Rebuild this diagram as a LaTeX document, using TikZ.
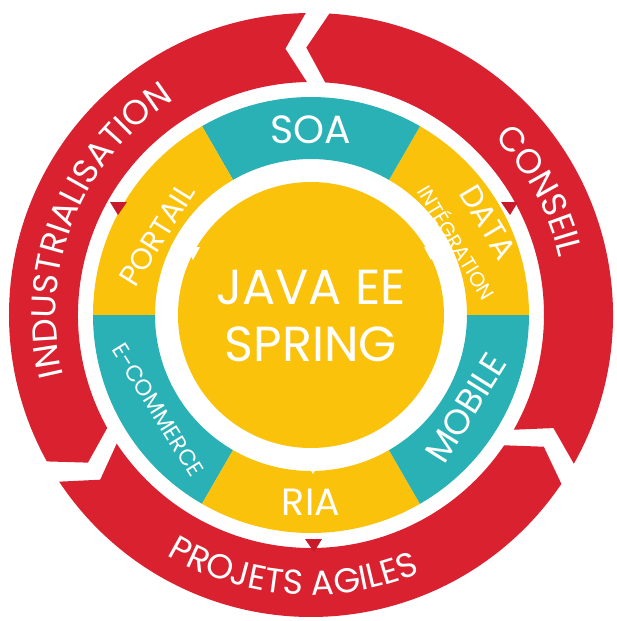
\documentclass[tikz,border=0pt]{standalone}
\usepackage{fontspec}
\setmainfont{Poppins}
\usetikzlibrary{decorations.text}
\definecolor{ringred}{HTML}{DA2130}
\definecolor{ringdark}{HTML}{C81A2A}
\definecolor{segteal}{HTML}{29B1B6}
\definecolor{segyellow}{HTML}{FBC20C}
\tikzset{
  seglabel/.style={text=white, inner sep=0pt},
  ringtext/.style={decorate, decoration={text along path, text color=white, text align=center, text={|\fontsize{24.5}{24.5}\selectfont|#1}}}
}

\begin{document}
\begin{tikzpicture}[x=0.025cm, y=0.025cm]
\useasboundingbox (-311,-306) rectangle (306,315);
\foreach \a/\b in {330.5/446.5, 91/209, 213.5/326}
  \fill[ringred] (\a:302) arc[start angle=\a, end angle=\b, radius=302] -- (\b+4.5:267.5) -- (\b:233) arc[start angle=\b, end angle=\a, radius=233] -- (\a+4.5:267.5) -- cycle;
\foreach \a/\c in {0/segyellow, 60/segteal, 120/segyellow, 180/segteal, 240/segyellow, 300/segteal}
  \fill[\c] (\a:156) arc[start angle=\a, delta angle=60, radius=156] -- (\a+60:218) arc[start angle=\a+60, delta angle=-60, radius=218] -- cycle;
\fill[segyellow] (0,0) circle[radius=133];
\fill[ringdark] (-201,113) -- (-184,113) -- (-193,100) -- cycle;
\fill[ringdark] (190,113) -- (207,113) -- (199,100) -- cycle;
\fill[ringdark] (-6,-224) -- (11,-224) -- (3,-237) -- cycle;
\fill[white] (-125,68) -- (-111,68) -- (-118,55) -- cycle;
\fill[white] (113,68) -- (127,68) -- (120,55) -- cycle;
\fill[white] (-5,-147) -- (9,-147) -- (2,-159) -- cycle;
\node[seglabel, font=\fontsize{35}{35}\selectfont] (java) at (0,28) {JAVA EE};
\node[seglabel, font=\fontsize{35}{35}\selectfont] (spring) at (0,-29) {SPRING};
\node[seglabel, font=\fontsize{28}{28}\selectfont] (soa) at (0,185) {SOA};
\node[seglabel, font=\fontsize{27}{27}\selectfont] (ria) at (0,-187) {RIA};
\node[seglabel, font=\fontsize{21}{21}\selectfont, rotate=58] (portail) at (-154,80) {PORTAIL};
\node[seglabel, font=\fontsize{22}{22}\selectfont, rotate=-59] (data) at (177,93) {DATA};
\node[seglabel, font=\fontsize{14.5}{14.5}\selectfont, rotate=-59] (integration) at (147,73) {INTÉGRATION};
\node[seglabel, font=\fontsize{25}{25}\selectfont, rotate=58] (mobile) at (155,-93) {MOBILE};
\node[seglabel, font=\fontsize{16}{16}\selectfont, rotate=-58] (ecommerce) at (-153,-95) {E-COMMERCE};
\path[ringtext=INDUSTRIALISATION] (203:255) arc[start angle=203, end angle=113, radius=255];
\path[ringtext=CONSEIL] (58.5:255) arc[start angle=58.5, end angle=-1.5, radius=255];
\path[ringtext={PROJETS AGILES}] (226:280) arc[start angle=226, end angle=306, radius=280];
\end{tikzpicture}
\end{document}
